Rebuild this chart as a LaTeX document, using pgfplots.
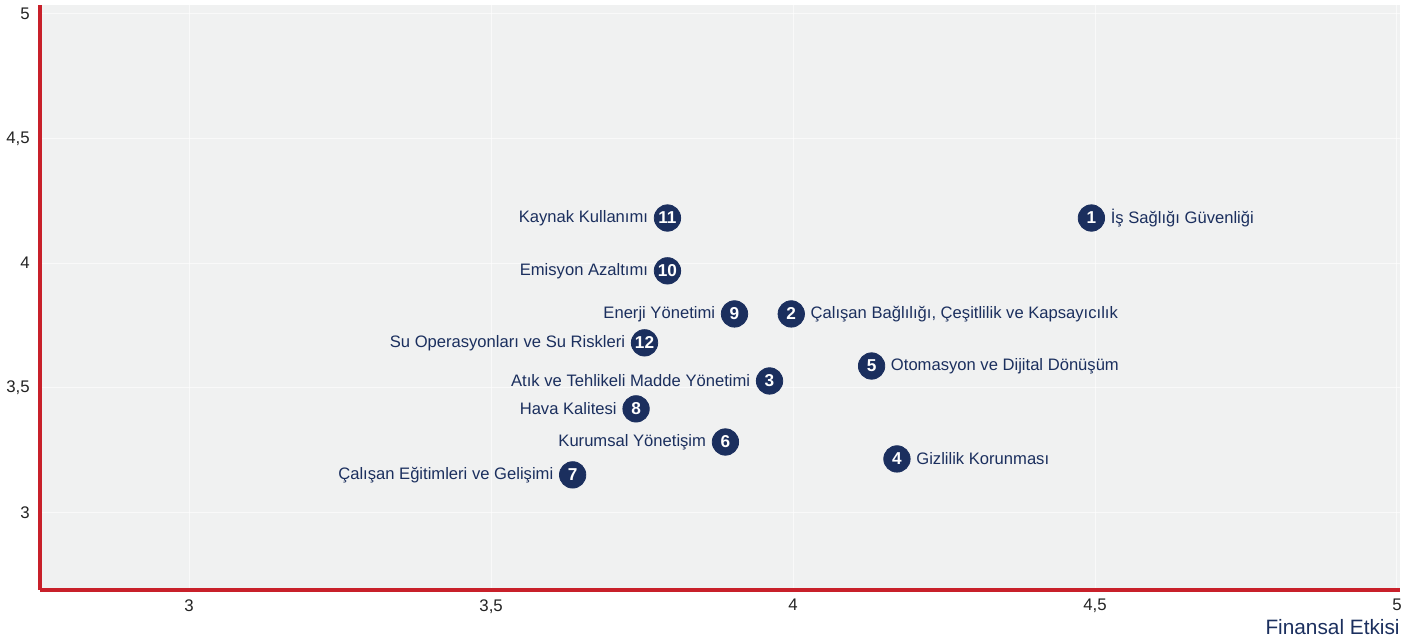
\documentclass[border=0pt]{standalone}
\usepackage{pgfplots}
\pgfplotsset{compat=1.18}
\usepackage{pgfplotstable}
\usepackage{fontspec}
\setmainfont{Liberation Sans}
\definecolor{navy}{HTML}{1B2F5E}
\definecolor{axred}{HTML}{C8202A}
\definecolor{bg}{HTML}{F0F1F1}
\definecolor{ticktxt}{HTML}{222222}

\pgfplotstableread[col sep=semicolon, row sep=\\]{
x;y;n\\
4.494;4.181;1\\
3.997;3.796;2\\
3.961;3.527;3\\
4.172;3.214;4\\
4.130;3.587;5\\
3.888;3.282;6\\
3.635;3.150;7\\
3.740;3.415;8\\
3.903;3.796;9\\
3.792;3.969;10\\
3.792;4.181;11\\
3.754;3.680;12\\
}\pts

\pgfplotstableread[col sep=semicolon, row sep=\\]{
x;y;label\\
3.961;3.527;Atık ve Tehlikeli Madde Yönetimi\\
3.888;3.282;Kurumsal Yönetişim\\
3.635;3.150;Çalışan Eğitimleri ve Gelişimi\\
3.740;3.415;Hava Kalitesi\\
3.903;3.796;Enerji Yönetimi\\
3.792;3.969;Emisyon Azaltımı\\
3.792;4.181;Kaynak Kullanımı\\
3.754;3.680;Su Operasyonları ve Su Riskleri\\
}\leftlab

\pgfplotstableread[col sep=semicolon, row sep=\\]{
x;y;label\\
4.494;4.181;İş Sağlığı Güvenliği\\
3.997;3.796;Çalışan Bağlılığı, Çeşitlilik ve Kapsayıcılık\\
4.172;3.214;Gizlilik Korunması\\
4.130;3.587;Otomasyon ve Dijital Dönüşüm\\
}\rightlab

\begin{document}
\begin{tikzpicture}
\begin{axis}[
  name=ax,
  scale only axis,
  width=680pt, height=292.5pt,
  xmin=2.753, xmax=5.005,
  ymin=2.688, ymax=5.036,
  xtick={3,3.5,4,4.5,5},
  ytick={3,3.5,4,4.5,5},
  axis x line=bottom, axis y line=left,
  axis line style={-, axred, line width=2pt},
  axis background/.style={fill=bg},
  grid=major,
  grid style={white, line width=0.5pt, opacity=0.6},
  tick style={draw=none},
  /pgf/number format/assume math mode=true,
  /pgf/number format/use comma,
  ticklabel style={font=\fontsize{8.4}{10}\selectfont, text=ticktxt},
  yticklabel style={xshift=0.5pt},
  xticklabel style={yshift=1pt},
  xlabel={Finansal Etkisi},
  xlabel style={at={(axis description cs:1,0)}, anchor=north east, yshift=-14.5pt, inner sep=0pt, font=\fontsize{10.4}{12}\selectfont, text=navy},
  clip=false,
]
\addplot[draw=none, mark=*, mark size=6.6pt, mark options={fill=navy, draw=navy},
  point meta=explicit symbolic,
  nodes near coords={\pgfplotspointmeta},
  every node near coord/.append style={anchor=center, text=white, inner sep=0pt, font=\fontsize{8.6}{9}\selectfont\bfseries}]
  table[x=x, y=y, meta=n] {\pts};
\addplot[draw=none, mark=none,
  point meta=explicit symbolic,
  nodes near coords={\pgfplotspointmeta},
  every node near coord/.append style={anchor=east, xshift=-9.5pt, yshift=0pt, inner sep=0pt, text=navy, font=\fontsize{8.3}{10}\selectfont}]
  table[x=x, y=y, meta=label] {\leftlab};
\addplot[draw=none, mark=none,
  point meta=explicit symbolic,
  nodes near coords={\pgfplotspointmeta},
  every node near coord/.append style={anchor=west, xshift=9.5pt, yshift=0pt, inner sep=0pt, text=navy, font=\fontsize{8.3}{10}\selectfont}]
  table[x=x, y=y, meta=label] {\rightlab};
\end{axis}
\pgfresetboundingbox
\path[use as bounding box] ([xshift=-20pt,yshift=-25.5pt]ax.south west) rectangle ([xshift=9pt,yshift=2.5pt]ax.north east);
\end{tikzpicture}
\end{document}
